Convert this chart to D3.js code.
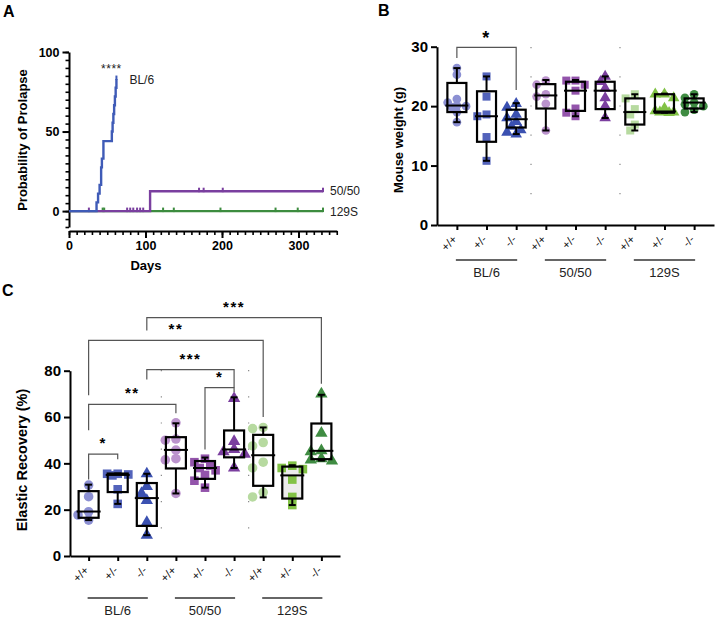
<!DOCTYPE html>
<html><head>
<meta charset="utf-8">
<title>Prolapse, weight and elastic recovery</title>
<script src="https://d3js.org/d3.v7.min.js"></script>
<style>
  body { margin: 0; background: #fff; }
  svg { font-family: "Liberation Sans", Arial, sans-serif; }
  .axis path, .axis line { stroke: #000; stroke-width: 2; }
  .axis text { font-weight: bold; fill: #000; }
  .minor path { stroke: none; }
  .minor line { stroke: #000; stroke-width: 1.6; }
</style>
</head>
<body>
<svg id="fig" width="717" height="619"></svg>
<script>
// ---- A: cumulative probability of prolapse (step curves)
const bl6Days   = [0, 36, 38, 40, 42, 43, 45, 56, 57, 58, 59, 60, 61, 62];
const bl6Prob   = [0, 5.5, 11, 16.5, 27.5, 33, 44, 50, 55.5, 61, 66.5, 72, 77.5, 83];
const bl6Censor = [62];
const mixDays   = [0, 106, 332];
const mixProb   = [0, 12.5, 12.5];
const mixCensor = [26, 76, 80, 84, 89, 93, 97, 170, 176, 201, 332];
const s129Days  = [0, 332];
const s129Prob  = [0, 0];
const s129Censor = [44, 46, 123, 137, 198, 270, 299, 332];

// ---- B / C: groups
const genotypes = ["+/+", "+/-", "-/-", "+/+", "+/-", "-/-", "+/+", "+/-", "-/-"];
const strains = ["BL/6", "50/50", "129S"];
const groupColors = ["#8c90d3", "#5363bb", "#3b51b1", "#bb93cd", "#9354ab", "#7b3f9f", "#b7daa0", "#82c246", "#3f8c42"];
const weightShapes  = ["circle", "square", "triangle", "circle", "square", "triangle", "square", "triangle", "circle"];
const elasticShapes = ["circle", "square", "triangle", "circle", "square", "triangle", "circle", "square", "triangle"];

// mouse weight (g): individual animals
const weightPts = [
  [26.4, 25.3, 21.2, 20.6, 20.1, 20.0, 19.8, 19.0, 17.3],
  [25.0, 21.6, 18.6, 18.3, 14.8, 10.8],
  [20.4, 19.8, 18.6, 18.0, 17.4, 16.6, 16.0, 15.3, 15.6],
  [24.3, 23.6, 22.0, 21.6, 20.4, 15.9],
  [24.3, 24.3, 23.6, 22.6, 19.6, 18.9, 18.3],
  [25.0, 24.1, 23.0, 21.4, 20.0, 18.0],
  [22.0, 21.3, 19.5, 18.6, 16.9, 15.9],
  [22.0, 22.0, 21.4, 19.6, 19.2, 19.0, 19.0, 18.9],
  [22.0, 21.4, 20.6, 20.3, 20.0, 19.4, 19.0]
];
// min, q1, median, q3, max
const weightBox = [
  [17.3, 19.0, 20.1, 23.9, 26.4],
  [10.8, 14.0, 18.3, 22.5, 25.0],
  [15.3, 16.4, 17.8, 19.4, 20.5],
  [15.9, 19.6, 21.8, 23.7, 24.4],
  [18.3, 19.2, 22.6, 24.1, 24.4],
  [18.0, 19.5, 22.6, 24.1, 25.0],
  [15.9, 16.9, 19.0, 21.3, 22.0],
  [18.9, 18.9, 19.1, 22.0, 22.1],
  [19.0, 19.6, 20.6, 21.3, 22.0]
];

// elastic recovery (%)
const elasticPts = [
  [30.6, 25.6, 19.1, 17.7, 15.5],
  [35.5, 35.5, 35.2, 34.8, 28.8, 22.5],
  [35.5, 30.0, 27.0, 24.0, 14.5, 9.0],
  [57.5, 50.5, 50.0, 45.7, 42.0, 41.5, 27.0],
  [42.0, 40.5, 39.0, 38.0, 37.0, 35.0, 32.5, 29.5],
  [68.0, 49.5, 46.0, 45.0, 44.0, 38.0],
  [55.5, 55.0, 49.0, 47.5, 40.5, 38.0, 27.5, 25.5],
  [39.0, 38.0, 37.5, 33.0, 25.5, 22.0],
  [70.0, 53.0, 45.5, 45.0, 42.0, 41.5, 41.0]
];
const elasticBox = [
  [15.5, 16.5, 19.2, 28.0, 30.8],
  [22.5, 27.6, 35.0, 35.6, 35.6],
  [9.0, 13.0, 25.0, 31.5, 35.5],
  [27.0, 37.8, 45.8, 51.3, 57.3],
  [29.5, 33.3, 38.0, 41.0, 42.5],
  [38.0, 42.6, 46.0, 54.2, 68.5],
  [25.3, 30.3, 43.5, 52.3, 55.5],
  [22.0, 24.8, 34.8, 38.6, 39.2],
  [41.2, 41.8, 45.4, 57.2, 69.6]
];

// significance brackets: from group, to group, bar level, left leg end, right leg end
const weightBrFrom = [0], weightBrTo = [2], weightBrTop = [29.9], weightBrLeft = [28.1], weightBrRight = [22.7], weightBrText = ["*"];
const elasticBrFrom  = [0, 0, 2, 4, 0, 2];
const elasticBrTo    = [1, 3, 5, 5, 6, 8];
const elasticBrTop   = [44.0, 65.5, 80.5, 72.7, 93.1, 102.9];
const elasticBrLeft  = [33.0, 54.3, 76.2, 46.0, 69.4, 97.4];
const elasticBrRight = [41.8, 61.6, 72.7, 70.8, 60.0, 74.4];
const elasticBrText  = ["*", "**", "***", "*", "**", "***"];

const svg = d3.select("svg#fig");

// panel letters
[["A", 3, 17], ["B", 378, 16], ["C", 2, 296]].forEach(p => {
  svg.append("text").attr("x", p[1]).attr("y", p[2]).text(p[0])
     .style("font-size", "16px").style("font-weight", "bold");
});

// =========== Panel A
const xA = d3.scaleLinear().domain([0, 350]).range([69, 336.75]);
const yA = d3.scaleLinear().domain([-10, 100]).range([227, 52]);

svg.append("g").attr("class", "axis minor").attr("transform", "translate(69,0)")
   .call(d3.axisLeft(yA).tickValues(d3.range(-10, 101, 5)).tickSize(3.5).tickFormat(""));
svg.append("g").attr("class", "axis").attr("transform", "translate(69,0)")
   .call(d3.axisLeft(yA).tickValues([0, 50, 100]).tickSize(6.5).tickSizeOuter(0))
   .selectAll("text").style("font-size", "12.5px");
svg.append("g").attr("class", "axis minor").attr("transform", "translate(0,231)")
   .call(d3.axisBottom(xA).tickValues(d3.range(0, 351, 10)).tickSize(4).tickFormat(""));
svg.append("g").attr("class", "axis").attr("transform", "translate(0,231)")
   .call(d3.axisBottom(xA).tickValues([0, 100, 200, 300]).tickSize(7).tickSizeOuter(0))
   .selectAll("text").style("font-size", "12.5px");

svg.append("text").attr("x", 146).attr("y", 270).attr("text-anchor", "middle")
   .style("font-size", "13px").style("font-weight", "bold").text("Days");
svg.append("text").attr("transform", "translate(27,140) rotate(-90)").attr("text-anchor", "middle")
   .style("font-size", "13px").style("font-weight", "bold").text("Probability of Prolapse");

const kmLine = d3.line().curve(d3.curveStepAfter).x(d => xA(d[0])).y(d => yA(d[1]));
function stepValue(days, prob, t) {
  let v = prob[0];
  days.forEach((d, i) => { if (d <= t) v = prob[i]; });
  return v;
}
const kmSeries = [
  { days: s129Days, prob: s129Prob, censor: s129Censor, color: "#3d8c3f" },
  { days: mixDays, prob: mixProb, censor: mixCensor, color: "#7a3f9f" },
  { days: bl6Days, prob: bl6Prob, censor: bl6Censor, color: "#3f5bb7" }
];
kmSeries.forEach(s => {
  svg.append("path").datum(s.days.map((d, i) => [d, s.prob[i]]))
     .attr("d", kmLine).attr("fill", "none").attr("stroke", s.color).attr("stroke-width", 2.4);
  s.censor.forEach(t => {
    const yy = yA(stepValue(s.days, s.prob, t));
    svg.append("line").attr("x1", xA(t)).attr("x2", xA(t)).attr("y1", yy - 3.5).attr("y2", yy + 1)
       .attr("stroke", s.color).attr("stroke-width", 2);
  });
});
svg.append("text").attr("x", xA(62) - 5).attr("y", yA(83) - 6).attr("text-anchor", "middle")
   .style("font-size", "12px").style("letter-spacing", "0.5px").attr("fill", "#222").text("****");
svg.append("text").attr("x", xA(62) + 13).attr("y", yA(83) + 5)
   .style("font-size", "12px").attr("fill", "#222").text("BL/6");
svg.append("text").attr("x", xA(332) + 7).attr("y", yA(12.5) + 4)
   .style("font-size", "12px").attr("fill", "#222").text("50/50");
svg.append("text").attr("x", xA(332) + 7).attr("y", yA(0) + 5)
   .style("font-size", "12px").attr("fill", "#222").text("129S");

// =========== box panels
const symbolTypes = { circle: d3.symbolCircle, square: d3.symbolSquare, triangle: d3.symbolTriangle };

// simple spread of points sideways, kept within +/- maxK steps of the centre
function swarm(vals, y, cx, step, minDist, maxK) {
  const placed = [];
  const offsets = [0];
  for (let k = 1; k <= maxK; k++) offsets.push(-k * step, k * step);
  vals.slice().sort((a, b) => b - a).forEach(v => {
    const py = y(v);
    let best = null, bestGap = -1;
    for (const off of offsets) {
      const gap = placed.length ? d3.min(placed, p => Math.hypot(p.x - (cx + off), p.y - py)) : Infinity;
      if (gap >= minDist) { best = off; break; }
      if (gap > bestGap) { bestGap = gap; best = off; }
    }
    placed.push({ x: cx + best, y: py });
  });
  return placed;
}

function boxPanel(o) {
  const x = o.x, y = o.y;
  const g = svg.append("g");

  // group separators
  [2.5, 5.5].forEach(k => {
    const sx = (x(Math.floor(k)) + x(Math.ceil(k))) / 2;
    g.append("line").attr("x1", sx).attr("x2", sx).attr("y1", o.sepTop).attr("y2", o.sepBottom)
     .attr("stroke", "#888").attr("stroke-width", 1.2).attr("stroke-dasharray", o.sepDash);
  });

  // shaded box interiors (drawn under the points)
  o.box.forEach((b, i) => {
    if (!o.boxFill[i]) return;
    g.append("rect").attr("x", x(i) - o.boxW / 2).attr("y", y(b[3])).attr("width", o.boxW)
     .attr("height", y(b[1]) - y(b[3])).attr("fill", o.boxFill[i]);
  });

  // points
  o.pts.forEach((vals, i) => {
    swarm(vals, y, x(i), o.step, o.minDist, 2).forEach(p => {
      g.append("path").attr("transform", `translate(${p.x},${p.y})`)
       .attr("d", d3.symbol().type(symbolTypes[o.shapes[i]]).size(o.symSize[o.shapes[i]])())
       .attr("fill", groupColors[i]);
    });
  });

  // boxes
  o.box.forEach((b, i) => {
    const cx = x(i), w = o.boxW;
    g.append("line").attr("x1", cx).attr("x2", cx).attr("y1", y(b[0])).attr("y2", y(b[1]))
     .attr("stroke", "#000").attr("stroke-width", 2);
    g.append("line").attr("x1", cx).attr("x2", cx).attr("y1", y(b[3])).attr("y2", y(b[4]))
     .attr("stroke", "#000").attr("stroke-width", 2);
    [b[0], b[4]].forEach(v => {
      g.append("line").attr("x1", cx - 3.5).attr("x2", cx + 3.5).attr("y1", y(v)).attr("y2", y(v))
       .attr("stroke", "#000").attr("stroke-width", 2);
    });
    g.append("rect").attr("x", cx - w / 2).attr("y", y(b[3])).attr("width", w).attr("height", y(b[1]) - y(b[3]))
     .attr("fill", "none").attr("stroke", "#000").attr("stroke-width", 2.2);
    g.append("line").attr("x1", cx - w / 2 - 2).attr("x2", cx + w / 2 + 2).attr("y1", y(b[2])).attr("y2", y(b[2]))
     .attr("stroke", "#000").attr("stroke-width", 2);
  });

  // axes
  g.append("g").attr("class", "axis").attr("transform", `translate(${o.axisX},0)`)
   .call(d3.axisLeft(y).tickValues(o.yTicks).tickSize(6).tickSizeOuter(0))
   .selectAll("text").style("font-size", o.tickFont);
  g.append("g").attr("class", "axis").attr("transform", `translate(0,${o.axisY})`)
   .call(d3.axisBottom(x).tickSize(5).tickSizeOuter(0).tickFormat(""));

  genotypes.forEach((t, i) => {
    g.append("text").attr("transform", `translate(${x(i) + 1},${o.axisY + 15}) rotate(-45)`)
     .attr("text-anchor", "end").style("font-size", "11.5px").attr("fill", "#111").text(t);
  });
  strains.forEach((s, k) => {
    g.append("line").attr("x1", x(3 * k) - 1).attr("x2", x(3 * k + 2) + 1)
     .attr("y1", o.groupLineY).attr("y2", o.groupLineY).attr("stroke", "#333").attr("stroke-width", 1.5);
    g.append("text").attr("x", x(3 * k + 1)).attr("y", o.groupLineY + 17).attr("text-anchor", "middle")
     .style("font-size", "13px").attr("fill", "#222").text(s);
  });

  g.append("text").attr("transform", `translate(${o.titleX},${o.titleY}) rotate(-90)`)
   .attr("text-anchor", "middle").style("font-size", o.titleFont).style("font-weight", "bold").text(o.title);

  // significance brackets
  o.brFrom.forEach((f, k) => {
    const x1 = x(f), x2 = x(o.brTo[k]);
    g.append("path")
     .attr("d", `M${x1},${y(o.brLeft[k])}V${y(o.brTop[k])}H${x2}V${y(o.brRight[k])}`)
     .attr("fill", "none").attr("stroke", "#555").attr("stroke-width", 1.2);
    g.append("text").attr("x", (x1 + x2) / 2).attr("y", y(o.brTop[k]) + o.starDy)
     .attr("text-anchor", "middle").style("font-size", o.starFont).style("letter-spacing", "1.5px")
     .style("font-weight", "bold").text(o.brText[k]);
  });
}

// =========== Panel B
boxPanel({
  x: d3.scalePoint().domain(d3.range(9)).range([437, 714]).padding(0.67),
  y: d3.scaleLinear().domain([0, 30]).range([225, 46.7]),
  pts: weightPts, box: weightBox, shapes: weightShapes, boxFill: [],
  symSize: { circle: 60, square: 64, triangle: 58 }, step: 4.6, minDist: 6.5, boxW: 19,
  axisX: 437, axisY: 225, yTicks: [0, 10, 20, 30], tickFont: "15px",
  sepTop: 47, sepBottom: 215, sepDash: "1.2,28",
  groupLineY: 260, title: "Mouse weight (g)", titleX: 403, titleY: 140, titleFont: "13px",
  brFrom: weightBrFrom, brTo: weightBrTo, brTop: weightBrTop, brLeft: weightBrLeft, brRight: weightBrRight,
  brText: weightBrText, starFont: "18px", starDy: -3
});

// =========== Panel C
boxPanel({
  x: d3.scalePoint().domain(d3.range(9)).range([70, 340]).padding(0.64),
  y: d3.scaleLinear().domain([0, 80]).range([556, 370.7]),
  pts: elasticPts, box: elasticBox, shapes: elasticShapes,
  boxFill: [null, null, null, null, null, null, null, "#ececec", null],
  symSize: { circle: 72, square: 74, triangle: 66 }, step: 5.3, minDist: 8, boxW: 20,
  axisX: 70, axisY: 556, yTicks: [0, 20, 40, 60, 80], tickFont: "15px",
  sepTop: 370, sepBottom: 545, sepDash: "1.2,25",
  groupLineY: 598, title: "Elastic Recovery (%)", titleX: 27, titleY: 460, titleFont: "14.5px",
  brFrom: elasticBrFrom, brTo: elasticBrTo, brTop: elasticBrTop, brLeft: elasticBrLeft, brRight: elasticBrRight,
  brText: elasticBrText, starFont: "15px", starDy: -6
});
</script>
</body>
</html>
